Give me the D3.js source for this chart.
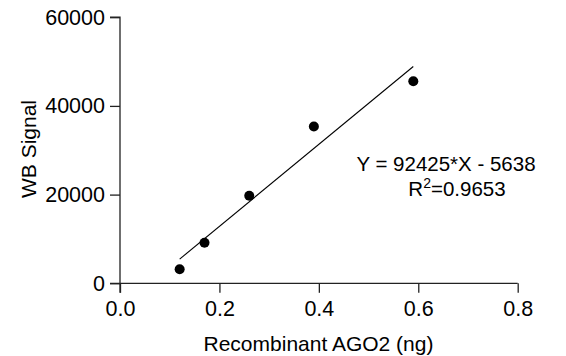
<!DOCTYPE html>
<html><head><meta charset="utf-8">
<script src="https://cdn.jsdelivr.net/npm/d3@7"></script>
<style>
html,body{margin:0;padding:0;background:#fff;}
svg{display:block;}
text{font-family:"Liberation Sans",Arial,sans-serif;fill:#000;}
</style></head>
<body>
<script>
const xValues = [0.12, 0.17, 0.26, 0.39, 0.59];
const yValues = [3150, 9160, 19740, 35350, 45550];
const xTicks = [0.0, 0.2, 0.4, 0.6, 0.8];
const yTicks = [0, 20000, 40000, 60000];
const slope = 92425, intercept = -5638;
const fitRange = [0.12, 0.59];
const equationText = "Y = 92425*X - 5638";
const r2Text = "0.9653";

const W = 566, H = 356;
const svg = d3.select("body").append("svg").attr("width", W).attr("height", H);

const x = d3.scaleLinear().domain([0, 0.8]).range([120, 517.7]);
const y = d3.scaleLinear().domain([0, 60000]).range([283.3, 17.2]);

const xAxis = d3.axisBottom(x).tickValues(xTicks).tickFormat(d3.format(".1f")).tickSize(9.5).tickPadding(8);
const yAxis = d3.axisLeft(y).tickValues(yTicks).tickFormat(d3.format("d")).tickSize(10).tickPadding(5);

const gx = svg.append("g").attr("transform", `translate(0,${y(0)})`).call(xAxis);
const gy = svg.append("g").attr("transform", `translate(${x(0)},0)`).call(yAxis);
[gx, gy].forEach(g => {
  g.select(".domain").attr("stroke", "#222").attr("stroke-width", 1.3);
  g.selectAll(".tick line").attr("stroke", "#222").attr("stroke-width", 1.3);
  g.selectAll(".tick text").attr("font-size", 21.5).attr("font-family", "Liberation Sans, Arial, sans-serif").attr("fill", "#000");
});
gx.select(".domain").attr("d", `M${x(0)-10},0H${x(0.8)}`);
gy.select(".domain").attr("d", `M0,${y(0)+9.5}V${y(60000)}H-10`);

// fit line
svg.append("line")
  .attr("x1", x(fitRange[0])).attr("y1", y(slope*fitRange[0]+intercept))
  .attr("x2", x(fitRange[1])).attr("y2", y(slope*fitRange[1]+intercept))
  .attr("stroke", "#000").attr("stroke-width", 1.1);

// points
svg.selectAll("circle.pt").data(xValues.map((v,i)=>[v,yValues[i]])).enter()
  .append("circle").attr("class","pt")
  .attr("cx", d=>x(d[0])).attr("cy", d=>y(d[1])).attr("r", 5).attr("fill", "#000");

// titles
svg.append("text").attr("x", 318.5).attr("y", 350.5).attr("text-anchor","middle")
  .attr("font-size", 21).text("Recombinant AGO2 (ng)");
svg.append("text").attr("transform","translate(36,149) rotate(-90)").attr("text-anchor","middle")
  .attr("font-size", 21).text("WB Signal");

// equation
svg.append("text").attr("x", 446).attr("y", 171).attr("text-anchor","middle")
  .attr("font-size", 20.5).text(equationText);
const r2 = svg.append("text").attr("x", 457).attr("y", 196).attr("text-anchor","middle").attr("font-size", 20.5);
r2.append("tspan").text("R");
r2.append("tspan").attr("font-size", 14).attr("dy", -8).text("2");
r2.append("tspan").attr("dy", 8).text("=" + r2Text);
</script>
</body></html>
